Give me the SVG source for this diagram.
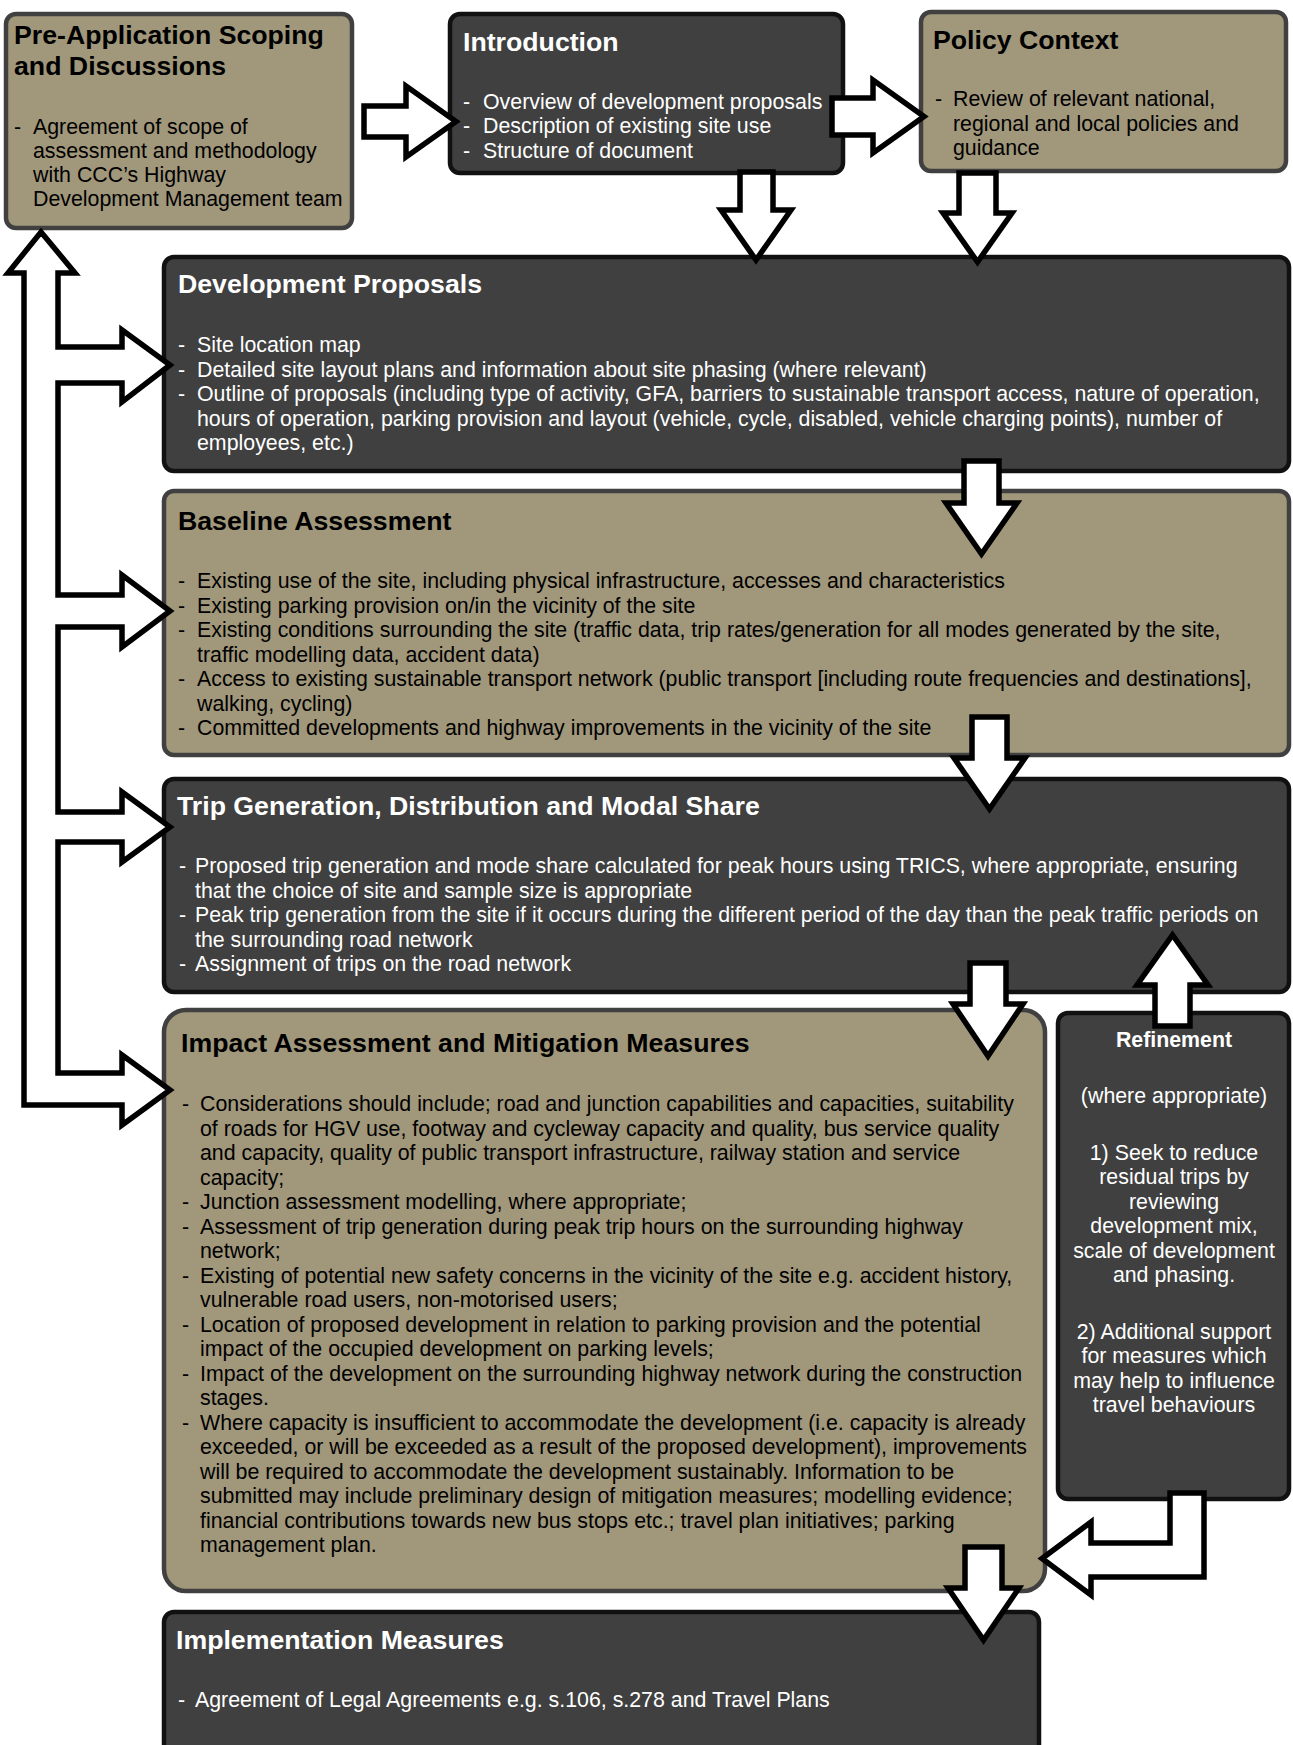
<svg xmlns="http://www.w3.org/2000/svg" width="1293" height="1745" viewBox="0 0 1293 1745">
<style>
text{font-family:"Liberation Sans",Arial,sans-serif}
.tan{fill:#a1977b;stroke:#404040;stroke-width:4.5}
.dark{fill:#404040;stroke:#111;stroke-width:4.5}
.tt{font-size:26.7px;font-weight:bold;fill:#000}
.tw{font-size:26.7px;font-weight:bold;fill:#fff}
.bb{font-size:21.35px;fill:#000}
.bw{font-size:21.35px;fill:#fff}
.arr{fill:#fff;stroke:#000;stroke-width:5.5;stroke-linejoin:miter}
</style>
<rect width="1293" height="1745" fill="#fff"/>
<g id="pre-application">
<rect class="tan" x="6" y="14" width="346" height="214" rx="10"/>
<text class="tt"><tspan x="14" y="44">Pre-Application Scoping</tspan><tspan x="14" y="75">and Discussions</tspan></text>
<text class="bb"><tspan x="14" y="133.5">-</tspan><tspan x="33" y="133.5">Agreement of scope of</tspan><tspan x="33" y="157.5">assessment and methodology</tspan><tspan x="33" y="181.5">with CCC’s Highway</tspan><tspan x="33" y="205.5">Development Management team</tspan></text>
</g>
<g id="introduction">
<rect class="dark" x="450" y="14" width="393" height="159" rx="10"/>
<text class="tw" x="463" y="51">Introduction</text>
<text class="bw"><tspan x="463" y="109">-</tspan><tspan x="483" y="109">Overview of development proposals</tspan><tspan x="463" y="133">-</tspan><tspan x="483" y="133">Description of existing site use</tspan><tspan x="463" y="157.5">-</tspan><tspan x="483" y="157.5">Structure of document</tspan></text>
</g>
<g id="policy-context">
<rect class="tan" x="921" y="12" width="365" height="159" rx="10"/>
<text class="tt" x="933" y="49">Policy Context</text>
<text class="bb"><tspan x="935" y="106">-</tspan><tspan x="953" y="106">Review of relevant national,</tspan><tspan x="953" y="130.5">regional and local policies and</tspan><tspan x="953" y="155">guidance</tspan></text>
</g>
<g id="development-proposals">
<rect class="dark" x="164" y="257" width="1125" height="214" rx="10"/>
<text class="tw" x="178" y="293">Development Proposals</text>
<text class="bw"><tspan x="178" y="352">-</tspan><tspan x="197" y="352">Site location map</tspan><tspan x="178" y="376.5">-</tspan><tspan x="197" y="376.5">Detailed site layout plans and information about site phasing (where relevant)</tspan><tspan x="178" y="401">-</tspan><tspan x="197" y="401">Outline of proposals (including type of activity, GFA, barriers to sustainable transport access, nature of operation,</tspan><tspan x="197" y="425.5">hours of operation, parking provision and layout (vehicle, cycle, disabled, vehicle charging points), number of</tspan><tspan x="197" y="450">employees, etc.)</tspan></text>
</g>
<g id="baseline-assessment">
<rect class="tan" x="164" y="491" width="1125" height="264" rx="10"/>
<text class="tt" x="178" y="530">Baseline Assessment</text>
<text class="bb"><tspan x="178" y="588">-</tspan><tspan x="197" y="588">Existing use of the site, including physical infrastructure, accesses and characteristics</tspan><tspan x="178" y="612.5">-</tspan><tspan x="197" y="612.5">Existing parking provision on/in the vicinity of the site</tspan><tspan x="178" y="637">-</tspan><tspan x="197" y="637">Existing conditions surrounding the site (traffic data, trip rates/generation for all modes generated by the site,</tspan><tspan x="197" y="661.5">traffic modelling data, accident data)</tspan><tspan x="178" y="686">-</tspan><tspan x="197" y="686">Access to existing sustainable transport network (public transport [including route frequencies and destinations],</tspan><tspan x="197" y="710.5">walking, cycling)</tspan><tspan x="178" y="735">-</tspan><tspan x="197" y="735">Committed developments and highway improvements in the vicinity of the site</tspan></text>
</g>
<g id="trip-generation">
<rect class="dark" x="164" y="779" width="1125" height="213" rx="10"/>
<text class="tw" x="177" y="815">Trip Generation, Distribution and Modal Share</text>
<text class="bw"><tspan x="179" y="873">-</tspan><tspan x="195" y="873">Proposed trip generation and mode share calculated for peak hours using TRICS, where appropriate, ensuring</tspan><tspan x="195" y="897.5">that the choice of site and sample size is appropriate</tspan><tspan x="179" y="922">-</tspan><tspan x="195" y="922">Peak trip generation from the site if it occurs during the different period of the day than the peak traffic periods on</tspan><tspan x="195" y="946.5">the surrounding road network</tspan><tspan x="179" y="971">-</tspan><tspan x="195" y="971">Assignment of trips on the road network</tspan></text>
</g>
<g id="impact-assessment">
<rect class="tan" x="164" y="1010" width="881" height="581" rx="22"/>
<text class="tt" x="181" y="1052">Impact Assessment and Mitigation Measures</text>
<text class="bb"><tspan x="182" y="1111">-</tspan><tspan x="200" y="1111">Considerations should include; road and junction capabilities and capacities, suitability</tspan><tspan x="200" y="1135.5">of roads for HGV use, footway and cycleway capacity and quality, bus service quality</tspan><tspan x="200" y="1160">and capacity, quality of public transport infrastructure, railway station and service</tspan><tspan x="200" y="1184.5">capacity;</tspan><tspan x="182" y="1209">-</tspan><tspan x="200" y="1209">Junction assessment modelling, where appropriate;</tspan><tspan x="182" y="1233.5">-</tspan><tspan x="200" y="1233.5">Assessment of trip generation during peak trip hours on the surrounding highway</tspan><tspan x="200" y="1258">network;</tspan><tspan x="182" y="1282.5">-</tspan><tspan x="200" y="1282.5">Existing of potential new safety concerns in the vicinity of the site e.g. accident history,</tspan><tspan x="200" y="1307">vulnerable road users, non-motorised users;</tspan><tspan x="182" y="1331.5">-</tspan><tspan x="200" y="1331.5">Location of proposed development in relation to parking provision and the potential</tspan><tspan x="200" y="1356">impact of the occupied development on parking levels;</tspan><tspan x="182" y="1380.5">-</tspan><tspan x="200" y="1380.5">Impact of the development on the surrounding highway network during the construction</tspan><tspan x="200" y="1405">stages.</tspan><tspan x="182" y="1429.5">-</tspan><tspan x="200" y="1429.5">Where capacity is insufficient to accommodate the development (i.e. capacity is already</tspan><tspan x="200" y="1454">exceeded, or will be exceeded as a result of the proposed development), improvements</tspan><tspan x="200" y="1478.5">will be required to accommodate the development sustainably. Information to be</tspan><tspan x="200" y="1503">submitted may include preliminary design of mitigation measures; modelling evidence;</tspan><tspan x="200" y="1527.5">financial contributions towards new bus stops etc.; travel plan initiatives; parking</tspan><tspan x="200" y="1552">management plan.</tspan></text>
</g>
<g id="refinement">
<rect class="dark" x="1058" y="1013" width="231" height="486" rx="10"/>
<text class="bw" text-anchor="middle" font-weight="bold" x="1174" y="1047">Refinement</text>
<text class="bw" text-anchor="middle"><tspan x="1174" y="1103">(where appropriate)</tspan><tspan x="1174" y="1160">1) Seek to reduce</tspan><tspan x="1174" y="1184.4">residual trips by</tspan><tspan x="1174" y="1208.8">reviewing</tspan><tspan x="1174" y="1233.2">development mix,</tspan><tspan x="1174" y="1257.6">scale of development</tspan><tspan x="1174" y="1282">and phasing.</tspan><tspan x="1174" y="1339">2) Additional support</tspan><tspan x="1174" y="1363.4">for measures which</tspan><tspan x="1174" y="1387.8">may help to influence</tspan><tspan x="1174" y="1412.2">travel behaviours</tspan></text>
</g>
<g id="implementation-measures">
<rect class="dark" x="164" y="1612" width="875" height="160" rx="10"/>
<text class="tw" x="176" y="1649">Implementation Measures</text>
<text class="bw"><tspan x="178" y="1707">-</tspan><tspan x="195" y="1707">Agreement of Legal Agreements e.g. s.106, s.278 and Travel Plans</tspan></text>
</g>
<g id="connectors">
<polygon class="arr" points="364,106 406,106 406,86 456,121.5 406,157 406,137 364,137"/>
<polygon class="arr" points="832,98 873,98 873,80 924,116.5 873,153 873,135 832,135"/>
<polygon class="arr" points="740,172 773,172 773,210 791,210 756,260 721,210 740,210"/>
<polygon class="arr" points="959,173 996,173 996,213 1012,213 977.5,262 943,213 959,213"/>
<polygon class="arr" points="964,461 999,461 999,503 1017,503 981.5,554 946,503 964,503"/>
<polygon class="arr" points="972,717 1007,717 1007,758 1025,758 989.5,809 954,758 972,758"/>
<polygon class="arr" points="970,963 1006,963 1006,1004 1023,1004 988,1056 953,1004 970,1004"/>
<polygon class="arr" points="1155,1026 1190,1026 1190,985 1208,985 1172.5,935 1137,985 1155,985"/>
<polygon class="arr" points="965,1547 1002,1547 1002,1588 1019,1588 983.5,1640 948,1588 965,1588"/>
<polygon class="arr" points="1170,1493 1204,1493 1204,1577 1091,1577 1091,1595 1042,1558.5 1091,1522 1091,1543 1170,1543"/>
<polygon class="arr" points="41,232 75,273 58,273 58,347 122,347 122,330 170,365 122,402 122,383 58,383 58,595 122,595 122,575 170,611 122,647 122,627 58,627 58,812 122,812 122,792 170,827 122,862 122,842 58,842 58,1073 122,1073 122,1055 170,1090 122,1125 122,1105 24,1105 24,273 8,273"/>
</g>
</svg>
